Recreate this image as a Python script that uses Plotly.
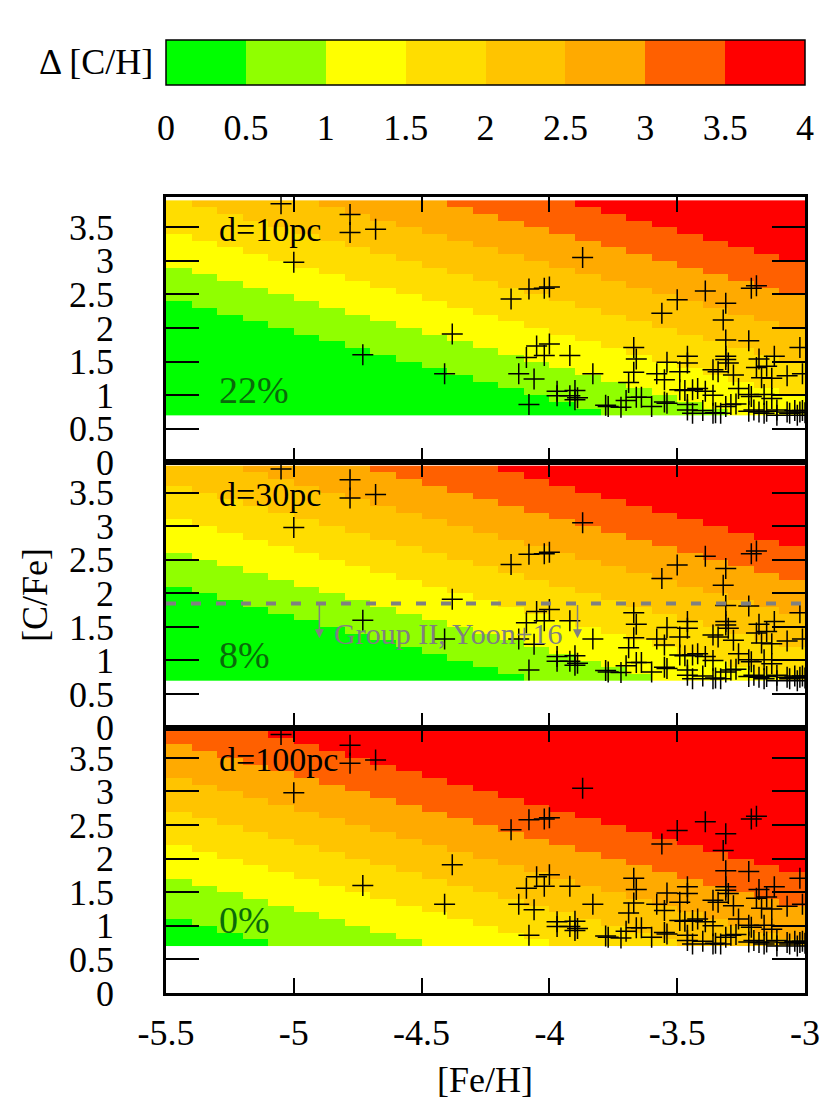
import numpy as np
import plotly.graph_objects as go
from plotly.subplots import make_subplots

# band colours of Delta[C/H], one per 0.5 step from 0 to 4
BAND_COLORS = ["#00ff00", "#90ff00", "#ffff00", "#ffdd00",
               "#ffc400", "#ffaa00", "#ff6000", "#ff0000"]
CBAR_TICKS = [0, 0.5, 1, 1.5, 2, 2.5, 3, 3.5, 4]

# [C/H] values where Delta[C/H] crosses 0.5, 1, ..., 3.5
EDGES_10PC = [-3.05, -2.55, -2.05, -1.55, -1.05, -0.55, -0.05]
EDGES_30PC = [-3.35, -2.85, -2.35, -1.85, -1.35, -0.85, -0.35]
EDGES_100PC = [-4.35, -3.75, -3.25, -2.75, -2.25, -1.75, -1.25]

PANEL_LABELS = ["d=10pc", "d=30pc", "d=100pc"]
PANEL_FRACTIONS = ["22%", "8%", "0%"]

# model grid (cell centres)
FEH_GRID = np.round(np.arange(-5.45, -3.0, 0.1), 2)
CFE_GRID = np.round(np.arange(0.75, 3.9, 0.1), 2)

# observed stars
STAR_FEH = [
    -5.05, -4.78, -4.78, -4.68, -5.00, -4.38, -4.73, -4.41,
    -3.87, -4.08, -4.02, -4.00, -4.15, -3.56,
    -3.19, -3.21, -3.39, -3.50, -3.31, -3.32, -3.31, -3.22, -3.02,
    -4.05, -4.00, -4.09, -4.02, -3.92, -3.67, -3.66, -4.12, -4.06, -3.83,
    -3.67, -3.69, -3.58, -3.90, -3.97, -3.92, -3.90, -4.08, -3.78, -3.72,
    -3.70, -3.66, -3.64, -3.60,
    -3.31, -3.31, -3.30, -3.46, -3.46, -3.54, -3.18, -3.12, -3.15, -3.19,
    -3.36, -3.49, -3.55, -3.28, -3.17, -3.13, -3.07, -3.01, -3.49, -3.44,
    -3.42, -3.36, -3.26, -3.22, -3.21, -3.16, -3.55, -3.46, -3.46, -3.44,
    -3.40, -3.36, -3.35, -3.33, -3.31, -3.29, -3.27, -3.22, -3.20, -3.18,
    -3.16, -3.15, -3.11, -3.11, -3.07, -3.06, -3.04, -3.03, -3.02, -3.01,
    -3.00, -3.97, -3.89, -3.77, -3.54, -3.47, -3.39, -3.34, -3.13,
]
STAR_CFE = [
    3.85, 3.69, 3.42, 3.47, 2.98, 1.91, 1.60, 1.32,
    3.05, 2.58, 2.59, 2.61, 2.43, 2.22,
    2.63, 2.59, 2.55, 2.42, 2.37, 2.12, 1.82, 1.81, 1.71,
    1.73, 1.76, 1.56, 1.59, 1.59, 1.71, 1.54, 1.32, 1.24, 1.32,
    1.34, 1.19, 1.32, 1.07, 0.99, 0.99, 0.93, 0.86, 0.85, 0.82,
    0.92, 0.97, 0.97, 0.83,
    1.58, 1.53, 1.48, 1.58, 1.48, 1.49, 1.54, 1.58, 1.43, 1.41,
    1.38, 1.35, 1.23, 1.30, 1.26, 1.25, 1.29, 1.32, 1.08, 1.08,
    1.10, 1.00, 1.10, 1.01, 0.98, 1.01, 0.90, 0.86, 0.78, 0.73,
    0.77, 0.73, 0.74, 0.73, 0.83, 0.86, 0.87, 0.76, 0.78, 0.75,
    0.73, 0.76, 0.78, 0.70, 0.75, 0.73, 0.77, 0.70, 0.75, 0.77,
    0.74, 1.06, 0.96, 0.83, 0.88, 1.07, 1.06, 1.35, 0.95,
]

# Yoon+16 Group II limit
GROUP2_CFE = 1.85
GROUP2_ARROW_FEH = [-4.9, -3.89]

FONT = "Liberation Serif"

colorscale = []
n = len(BAND_COLORS)
for i, c in enumerate(BAND_COLORS):
    colorscale += [[i / n, c], [(i + 1) / n, c]]

fig = make_subplots(rows=3, cols=1, shared_xaxes=True, vertical_spacing=0)

fx, fy = np.meshgrid(FEH_GRID, CFE_GRID)
for row, edges in enumerate([EDGES_10PC, EDGES_30PC, EDGES_100PC], start=1):
    band = np.searchsorted(edges, fx + fy)
    z = band * 0.5 + 0.25
    fig.add_trace(go.Heatmap(x=FEH_GRID, y=CFE_GRID, z=z, coloraxis="coloraxis",
                             hoverinfo="skip"), row=row, col=1)
    fig.add_trace(go.Scatter(x=STAR_FEH, y=STAR_CFE, mode="markers",
                             marker=dict(symbol="cross-thin", size=15,
                                         line=dict(width=1.5, color="black")),
                             showlegend=False), row=row, col=1)
    yref = "y" if row == 1 else f"y{row}"
    xref = "x" if row == 1 else f"x{row}"
    fig.add_annotation(x=-5.3, y=3.47, xref=xref, yref=yref, text=PANEL_LABELS[row - 1],
                       showarrow=False, xanchor="left",
                       font=dict(family=FONT, size=34, color="black"))
    fig.add_annotation(x=-5.3, y=1.08, xref=xref, yref=yref, text=PANEL_FRACTIONS[row - 1],
                       showarrow=False, xanchor="left",
                       font=dict(family=FONT, size=38, color="#0a6a0a"))

# Group II line + arrows in the middle panel
fig.add_shape(type="line", x0=-5.5, x1=-3.0, y0=GROUP2_CFE, y1=GROUP2_CFE,
              xref="x2", yref="y2", line=dict(color="#808080", width=4, dash="10px,15px"))
for ax_x in GROUP2_ARROW_FEH:
    fig.add_annotation(x=ax_x, y=GROUP2_CFE - 0.52, ax=ax_x, ay=GROUP2_CFE,
                       xref="x2", yref="y2", axref="x2", ayref="y2", text="",
                       showarrow=True, arrowhead=2, arrowsize=1.2, arrowwidth=1.5,
                       arrowcolor="#808080")
fig.add_annotation(x=-4.85, y=1.40, xref="x2", yref="y2", text="Group II, Yoon+16",
                   showarrow=False, xanchor="left",
                   font=dict(family=FONT, size=30, color="#808080"))

axis_style = dict(showline=True, linewidth=2.5, linecolor="black", mirror="ticks",
                  ticks="inside", tickcolor="black", tickwidth=1.5, showgrid=False,
                  zeroline=False, automargin=False,
                  tickfont=dict(family=FONT, size=36, color="black"))
fig.update_xaxes(range=[-5.5, -3.0], tickvals=[-5.5, -5, -4.5, -4, -3.5, -3],
                 ticktext=["-5.5", "-5", "-4.5", "-4", "-3.5", "-3"], ticklen=15,
                 ticklabelstandoff=6, **axis_style)
fig.update_yaxes(range=[0, 3.95], tickvals=[0, 0.5, 1, 1.5, 2, 2.5, 3, 3.5],
                 ticktext=["0", "0.5", "1", "1.5", "2", "2.5", "3", "3.5"], ticklen=33,
                 ticklabelstandoff=42, **axis_style)

# the page adds an 8px body margin, so the margins are trimmed by that much
plot_h = 1104 - 189 - 119
fig.update_layout(
    width=830, height=1104,
    margin=dict(l=158, r=33, t=189, b=119, autoexpand=False),
    plot_bgcolor="white", paper_bgcolor="white",
    showlegend=False,
    coloraxis=dict(
        colorscale=colorscale, cmin=0, cmax=4,
        colorbar=dict(orientation="h", x=0.5, xanchor="center",
                      y=1 + (197 - 40) / plot_h, yanchor="top",
                      len=1, lenmode="fraction", thickness=45, xpad=0, ypad=0,
                      outlinecolor="black", outlinewidth=1.5,
                      tickvals=CBAR_TICKS, ticktext=[f"{t:g}" for t in CBAR_TICKS],
                      ticks="outside", ticklen=12, tickcolor="rgba(0,0,0,0)",
                      tickfont=dict(family=FONT, size=36, color="black")),
    ),
)

# small boundary marks inside the colour bar
bar_top = 1 + (197 - 40) / plot_h
bar_bot = 1 + (197 - 85) / plot_h
mark = 15 / plot_h
for t in CBAR_TICKS[1:-1]:
    xf = t / 4
    fig.add_shape(type="line", xref="paper", yref="paper", x0=xf, x1=xf,
                  y0=bar_bot, y1=bar_bot + mark, line=dict(color="black", width=1))
    fig.add_shape(type="line", xref="paper", yref="paper", x0=xf, x1=xf,
                  y0=bar_top - mark, y1=bar_top, line=dict(color="black", width=1))

fig.add_annotation(x=-11 / 639, y=1 + (197 - 62) / plot_h, xref="paper", yref="paper",
                   text="Δ [C/H]", showarrow=False, xanchor="right", yanchor="middle",
                   font=dict(family=FONT, size=36, color="black"))
fig.add_annotation(x=-131 / 639, y=0.5, xref="paper", yref="paper", text="[C/Fe]",
                   showarrow=False, textangle=-90, xanchor="center", yanchor="middle",
                   font=dict(family=FONT, size=36, color="black"))
fig.add_annotation(x=(485 - 166) / 639, y=-(1080 - 993) / plot_h, xref="paper", yref="paper",
                   text="[Fe/H]", showarrow=False, xanchor="center", yanchor="middle",
                   font=dict(family=FONT, size=36, color="black"))

fig.write_html("out.html")
